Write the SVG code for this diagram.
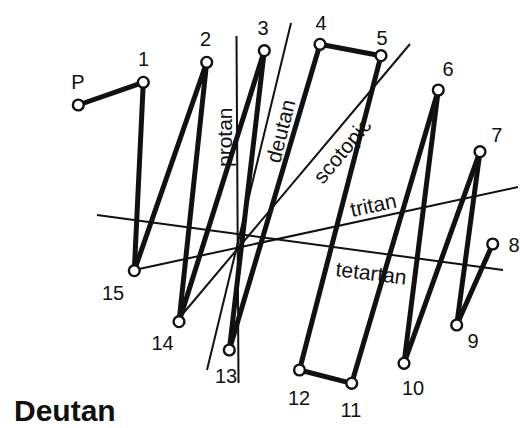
<svg xmlns="http://www.w3.org/2000/svg" width="520" height="428" viewBox="0 0 520 428">
<style>
.ax{stroke:#111;stroke-width:2;fill:none}
.cn{stroke:#111;stroke-width:5;stroke-linecap:round;fill:none}
.node circle{fill:#fff;stroke:#111;stroke-width:2.4}
text{font-family:"Liberation Sans",Arial,sans-serif;fill:#111}
.num{font-size:20px;text-anchor:middle}
.lab{font-size:21px}
.title{font-size:30px;font-weight:bold}
</style>
<rect width="520" height="428" fill="#fff"/>
<g id="axes">
<line class="ax" x1="236.5" y1="36" x2="238.5" y2="383"/>
<line class="ax" x1="291" y1="23" x2="207" y2="370"/>
<line class="ax" x1="410" y1="44" x2="181" y2="316"/>
<line class="ax" x1="139" y1="269" x2="518" y2="187"/>
<line class="ax" x1="97" y1="215" x2="503" y2="270"/>
<text class="lab" transform="translate(232,167) rotate(-90)">protan</text>
<text class="lab" transform="translate(280,164) rotate(-76)">deutan</text>
<text class="lab" transform="translate(323,185) rotate(-50)">scotopic</text>
<text class="lab" transform="translate(352,217) rotate(-12)">tritan</text>
<text class="lab" transform="translate(335,276) rotate(7)">tetartan</text>
</g>
<g id="connectors">
<line class="cn" x1="78.3" y1="105" x2="143.3" y2="82.3"/>
<line class="cn" x1="143.3" y1="82.3" x2="134.3" y2="270.7"/>
<line class="cn" x1="134.3" y1="270.7" x2="206.7" y2="62.3"/>
<line class="cn" x1="206.7" y1="62.3" x2="179" y2="321.7"/>
<line class="cn" x1="179" y1="321.7" x2="264.3" y2="50.7"/>
<line class="cn" x1="264.3" y1="50.7" x2="229.3" y2="350"/>
<line class="cn" x1="229.3" y1="350" x2="320" y2="44.3"/>
<line class="cn" x1="320" y1="44.3" x2="381" y2="55.7"/>
<line class="cn" x1="381" y1="55.7" x2="299.5" y2="370"/>
<line class="cn" x1="299.5" y1="370" x2="351.7" y2="383.3"/>
<line class="cn" x1="351.7" y1="383.3" x2="438.3" y2="90"/>
<line class="cn" x1="438.3" y1="90" x2="404" y2="363.3"/>
<line class="cn" x1="404" y1="363.3" x2="480" y2="151.7"/>
<line class="cn" x1="480" y1="151.7" x2="456.7" y2="325"/>
<line class="cn" x1="456.7" y1="325" x2="492.7" y2="244"/>
</g>
<g id="node-P" class="node"><circle cx="78.3" cy="105" r="5.4"/><text class="num" x="78" y="88.5">P</text></g>
<g id="node-1" class="node"><circle cx="143.3" cy="82.3" r="5.4"/><text class="num" x="143.5" y="66">1</text></g>
<g id="node-2" class="node"><circle cx="206.7" cy="62.3" r="5.4"/><text class="num" x="205.5" y="46">2</text></g>
<g id="node-3" class="node"><circle cx="264.3" cy="50.7" r="5.4"/><text class="num" x="263" y="35">3</text></g>
<g id="node-4" class="node"><circle cx="320" cy="44.3" r="5.4"/><text class="num" x="321" y="30">4</text></g>
<g id="node-5" class="node"><circle cx="381" cy="55.7" r="5.4"/><text class="num" x="382" y="45">5</text></g>
<g id="node-6" class="node"><circle cx="438.3" cy="90" r="5.4"/><text class="num" x="448" y="76">6</text></g>
<g id="node-7" class="node"><circle cx="480" cy="151.7" r="5.4"/><text class="num" x="496.7" y="141.7">7</text></g>
<g id="node-8" class="node"><circle cx="492.7" cy="244" r="5.4"/><text class="num" x="514" y="251.7">8</text></g>
<g id="node-9" class="node"><circle cx="456.7" cy="325" r="5.4"/><text class="num" x="473" y="348">9</text></g>
<g id="node-10" class="node"><circle cx="404" cy="363.3" r="5.4"/><text class="num" x="413" y="395">10</text></g>
<g id="node-11" class="node"><circle cx="351.7" cy="383.3" r="5.4"/><text class="num" x="351" y="416.7">11</text></g>
<g id="node-12" class="node"><circle cx="299.5" cy="370" r="5.4"/><text class="num" x="299" y="405">12</text></g>
<g id="node-13" class="node"><circle cx="229.3" cy="350" r="5.4"/><text class="num" x="226" y="383">13</text></g>
<g id="node-14" class="node"><circle cx="179" cy="321.7" r="5.4"/><text class="num" x="162.5" y="350">14</text></g>
<g id="node-15" class="node"><circle cx="134.3" cy="270.7" r="5.4"/><text class="num" x="113" y="300">15</text></g>
<text class="title" x="14" y="420.7">Deutan</text>
</svg>
